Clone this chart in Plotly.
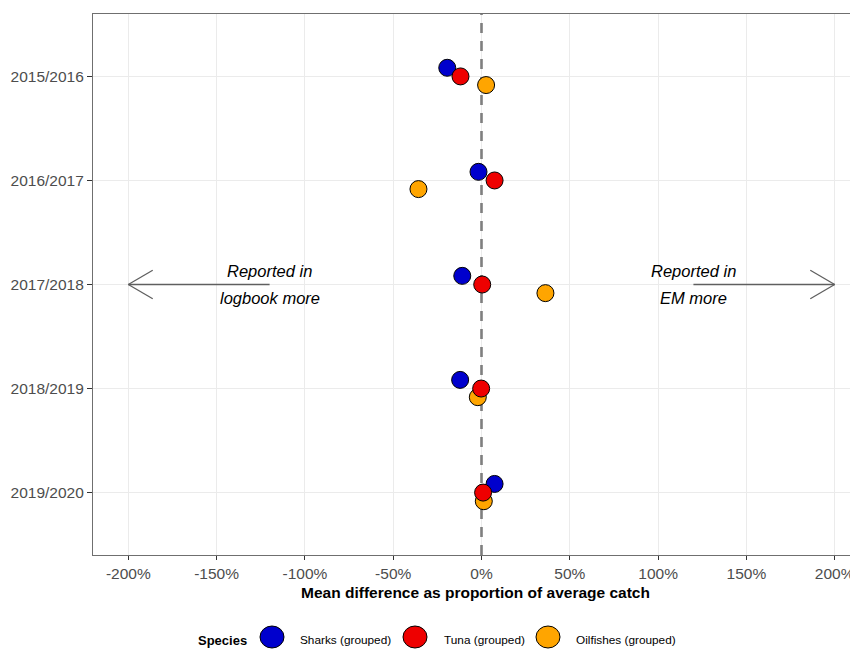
import plotly.graph_objects as go

# ---- data ----
seasons = ["2015/2016", "2016/2017", "2017/2018", "2018/2019", "2019/2020"]
species = ["Sharks (grouped)", "Tuna (grouped)", "Oilfishes (grouped)"]
sharks = [-19.4, -1.7, -10.9, -12.1, 7.4]
tuna = [-11.9, 7.4, 0.4, -0.2, 0.9]
oilfish = [2.6, -35.7, 36.2, -2.1, 1.3]
x_ticks = [-200, -150, -100, -50, 0, 50, 100, 150, 200]
x_tick_labels = [f"{v}%" for v in x_ticks]
arrow_left = (-120, -200)   # start, tip
arrow_right = (120, 200)
arrow_season = "2017/2018"
label_left = ["Reported in", "logbook more"]
label_right = ["Reported in", "EM more"]
zero_line = [0, 0]

# ---- style ----
FONT = "Liberation Sans, Arial, sans-serif"
colors = {"Sharks (grouped)": "#0000CD", "Tuna (grouped)": "#EE0000", "Oilfishes (grouped)": "#FFA500"}
dodge = {"Sharks (grouped)": -0.083, "Tuna (grouped)": 0.0, "Oilfishes (grouped)": 0.083}
values = {"Sharks (grouped)": sharks, "Tuna (grouped)": tuna, "Oilfishes (grouped)": oilfish}

OFF = 8  # page body margin
W, H = 858 - OFF, 649 - OFF
ML, MR, MT, MB = 93 - OFF, 0, 14 - OFF, 94
PW, PH = W - ML - MR, H - MT - MB
Y_RANGE = [5.6, 0.4]


def px_x(p):  # page pixel -> paper
    return (p - OFF - ML) / PW


def px_y(p):
    return (H - MB - (p - OFF)) / PH


ypos = {s: i + 1 for i, s in enumerate(seasons)}

fig = go.Figure()

# dashed reference line at zero (drawn first, below points)
fig.add_trace(go.Scatter(x=zero_line, y=Y_RANGE, mode="lines", showlegend=False, hoverinfo="skip",
                         line=dict(color="#7f7f7f", width=2.6, dash="10px,8px")))

# draw order: sharks, oilfish, tuna (tuna on top)
for sp in ["Sharks (grouped)", "Oilfishes (grouped)", "Tuna (grouped)"]:
    fig.add_trace(go.Scatter(
        x=values[sp],
        y=[ypos[s] + dodge[sp] for s in seasons],
        mode="markers",
        name=sp,
        showlegend=False,
        marker=dict(size=17, color=colors[sp], line=dict(color="black", width=1)),
        hoverinfo="x+name",
    ))

shapes = []
ya = ypos[arrow_season]
arr_col = "#5f5f5f"
for (start, tip) in [arrow_left, arrow_right]:
    shapes.append(dict(type="line", xref="x", yref="y", x0=start, x1=tip, y0=ya, y1=ya,
                       line=dict(color=arr_col, width=1.3), layer="above"))
    sign = 1 if tip < start else -1
    for dy in (14.2, -14.2):
        shapes.append(dict(type="line", xref="x", yref="y",
                           xsizemode="pixel", xanchor=tip, x0=0, x1=sign * 24.4,
                           ysizemode="pixel", yanchor=ya, y0=0, y1=dy,
                           line=dict(color=arr_col, width=1.3), layer="above"))

annotations = []
for (start, _), lines in [(arrow_left, label_left), (arrow_right, label_right)]:
    for txt, shift in zip(lines, (13.5, -13.5)):
        annotations.append(dict(x=start, y=ya, xref="x", yref="y", text=txt, showarrow=False,
                                yshift=shift, xanchor="center", yanchor="middle",
                                font=dict(family=FONT, size=16.5, color="black", style="italic")))

# custom legend
LEG_CY, LEG_TY = 637, 640
annotations.append(dict(x=px_x(196), y=px_y(LEG_TY), xref="paper", yref="paper", text="<b>Species</b>",
                        showarrow=False, xanchor="left", yanchor="middle",
                        font=dict(family=FONT, size=13, color="black")))
leg_circle_x = [272, 415, 548]
leg_text_x = [298, 442, 574]
for sp, cx, tx in zip(species, leg_circle_x, leg_text_x):
    shapes.append(dict(type="circle", xref="paper", yref="paper",
                       xsizemode="pixel", xanchor=px_x(cx), x0=-12, x1=12,
                       ysizemode="pixel", yanchor=px_y(LEG_CY), y0=-11, y1=11,
                       fillcolor=colors[sp], line=dict(color="black", width=1)))
    annotations.append(dict(x=px_x(tx), y=px_y(LEG_TY), xref="paper", yref="paper", text=sp,
                            showarrow=False, xanchor="left", yanchor="middle",
                            font=dict(family=FONT, size=11.8, color="black")))

fig.update_layout(
    width=W, height=H,
    margin=dict(l=ML, r=MR, t=MT, b=MB, pad=0, autoexpand=False),
    paper_bgcolor="white", plot_bgcolor="white",
    font=dict(family=FONT, color="#4d4d4d"),
    shapes=shapes, annotations=annotations,
    showlegend=False,
    xaxis=dict(
        range=[-220, 213.2], tickvals=x_ticks, ticktext=x_tick_labels, automargin=False,
        showgrid=True, gridcolor="#ebebeb", gridwidth=1.1, zeroline=False,
        showline=True, linecolor="#6f6f6f", linewidth=1.1, mirror=True,
        ticks="outside", ticklen=4, tickcolor="#333333", tickwidth=1.1,
        tickfont=dict(size=15.5, color="#4d4d4d"),
        title=dict(text="<b>Mean difference as proportion of average catch</b>",
                   font=dict(size=15.5, color="black"), standoff=6),
    ),
    yaxis=dict(
        range=Y_RANGE, tickvals=[ypos[s] for s in seasons], ticktext=seasons, automargin=False,
        showgrid=True, gridcolor="#ebebeb", gridwidth=1.1, zeroline=False,
        showline=True, linecolor="#6f6f6f", linewidth=1.1, mirror=False,
        ticks="outside", ticklen=5, tickcolor="#333333", tickwidth=1.1,
        tickfont=dict(size=15.5, color="#4d4d4d"),
    ),
)

fig.write_html("out.html")
